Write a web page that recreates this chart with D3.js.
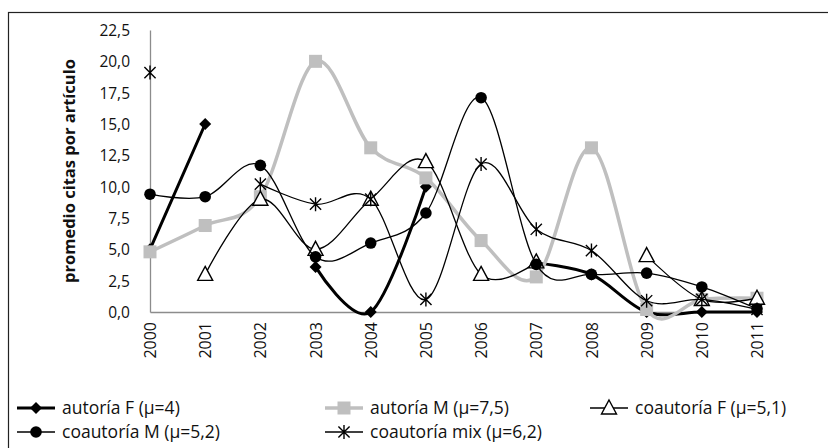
<!DOCTYPE html>
<html><head><meta charset="utf-8">
<script src="https://cdn.jsdelivr.net/npm/d3@7"></script>
<style>
html,body{margin:0;padding:0;background:#fff;}
svg text{font-family:"Open Sans",sans-serif;fill:#111;}
</style></head>
<body>
<svg id="c" width="828" height="448"></svg>
<script>
const years = ["2000","2001","2002","2003","2004","2005","2006","2007","2008","2009","2010","2011"];
const yTicks = [0,2.5,5,7.5,10,12.5,15,17.5,20,22.5];
const autoriaF    = [5.0, 15.0, null, 3.6, 0.0, 10.0, null, 3.9, 3.0, 0.0, 0.0, 0.0];
const autoriaM    = [4.8, 6.9, 9.2, 20.0, 13.1, 10.7, 5.7, 2.8, 13.1, 0.2, 1.0, 1.1];
const coautoriaF  = [null, 3.0, 9.0, 5.0, 9.0, 12.0, 3.0, 4.0, null, 4.5, 1.0, 1.1];
const coautoriaM  = [9.4, 9.2, 11.7, 4.4, 5.5, 7.9, 17.1, 3.8, 3.0, 3.1, 2.0, 0.25];
const coautoriaMix= [19.1, null, 10.2, 8.6, 9.0, 1.0, 11.8, 6.6, 4.9, 0.9, 1.0, 0.2];
const seriesNames = ["autoría F (μ=4)","autoría M (μ=7,5)","coautoría F (μ=5,1)","coautoría M (μ=5,2)","coautoría mix (μ=6,2)"];
const yTitle = "promedio citas por artículo";

const series = [
  {name:seriesNames[0], values:autoriaF, stroke:"#000", width:3, marker:"diamond"},
  {name:seriesNames[1], values:autoriaM, stroke:"#bfbfbf", width:3.5, marker:"square"},
  {name:seriesNames[2], values:coautoriaF, stroke:"#000", width:1.3, marker:"triangle"},
  {name:seriesNames[3], values:coautoriaM, stroke:"#000", width:1.3, marker:"circle"},
  {name:seriesNames[4], values:coautoriaMix, stroke:"#000", width:1.3, marker:"asterisk"}
];

const svg = d3.select("#c");
svg.append("rect").attr("x",8.5).attr("y",12.5).attr("width",830).attr("height",450)
  .attr("fill","#fff").attr("stroke","#222").attr("stroke-width",1.2);

const x = d3.scalePoint().domain(years).range([150,757]);
const y = d3.scaleLinear().domain([0,22.5]).range([312,30]);

// axes
const yAxis = d3.axisLeft(y).tickValues(yTicks).tickSize(0).tickPadding(20)
  .tickFormat(d=>d3.format(".1f")(d).replace(".",","));
const gy = svg.append("g").attr("transform","translate(150,0)").call(yAxis);
gy.select(".domain").attr("stroke","#8c8c8c").attr("stroke-width",1.3);
gy.selectAll("text").style("font-size","15.5px").attr("fill","#111").attr("dy","0.35em");

const xAxis = d3.axisBottom(x).tickSize(0).tickPadding(0);
const gx = svg.append("g").attr("transform","translate(0,312)").call(xAxis);
gx.select(".domain").attr("stroke","#8c8c8c").attr("stroke-width",1.3);
gx.selectAll("text").style("font-size","16px").attr("fill","#111")
  .attr("transform","rotate(-90)").attr("text-anchor","end")
  .attr("x",-10).attr("y",0).attr("dy","0.35em");

svg.append("text").attr("transform","translate(75,171) rotate(-90)")
  .attr("text-anchor","middle").style("font-size","16.5px").style("font-weight","bold").text(yTitle);

// markers
function drawMarker(g, type, cx, cy){
  if(type==="diamond"){
    g.append("path").attr("d",`M${cx},${cy-6}L${cx+6},${cy}L${cx},${cy+6}L${cx-6},${cy}Z`).attr("fill","#000");
  } else if(type==="square"){
    g.append("rect").attr("x",cx-6.5).attr("y",cy-6.5).attr("width",13).attr("height",13).attr("fill","#bfbfbf");
  } else if(type==="triangle"){
    g.append("path").attr("d",`M${cx},${cy-8}L${cx+7.5},${cy+6}L${cx-7.5},${cy+6}Z`).attr("fill","#fff").attr("stroke","#000").attr("stroke-width",1.4);
  } else if(type==="circle"){
    g.append("circle").attr("cx",cx).attr("cy",cy).attr("r",5.8).attr("fill","#000");
  } else if(type==="asterisk"){
    const r=7;
    g.append("path").attr("d",`M${cx-r*0.8},${cy-r*0.8}L${cx+r*0.8},${cy+r*0.8}M${cx-r*0.8},${cy+r*0.8}L${cx+r*0.8},${cy-r*0.8}M${cx},${cy-r}L${cx},${cy+r}`)
      .attr("stroke","#000").attr("stroke-width",1.4).attr("fill","none");
  }
}

const line = d3.line().defined(d=>d.v!==null).x(d=>x(d.yr)).y(d=>y(d.v)).curve(d3.curveCardinal.tension(0));

series.forEach(s=>{
  const g = svg.append("g");
  const data = years.map((yr,i)=>({yr, v:s.values[i]}));
  g.append("path").datum(data).attr("d",line).attr("fill","none")
    .attr("stroke",s.stroke).attr("stroke-width",s.width).attr("stroke-linejoin","round");
  data.filter(d=>d.v!==null).forEach(d=>drawMarker(g,s.marker,x(d.yr),y(d.v)));
});

// legend
const legPos = [[17,408],[325,408],[590,408],[17,432],[325,432]];
series.forEach((s,i)=>{
  const [lx,ly] = legPos[i];
  const g = svg.append("g");
  g.append("line").attr("x1",lx).attr("x2",lx+38).attr("y1",ly).attr("y2",ly)
    .attr("stroke",s.stroke).attr("stroke-width",s.width);
  drawMarker(g,s.marker,lx+19,ly);
  g.append("text").attr("x",lx+45).attr("y",ly).attr("dy","0.35em").style("font-size","17.5px").text(s.name);
});
</script>
</body></html>
